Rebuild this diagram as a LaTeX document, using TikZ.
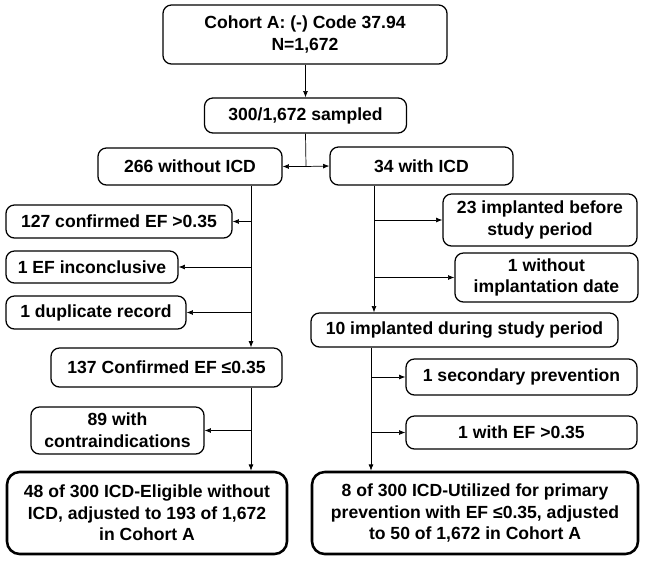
\documentclass[tikz,border=0pt]{standalone}
\usepackage{fontspec}
\setmainfont{Liberation Sans}
\usetikzlibrary{arrows.meta}

\def\pxu{0.025cm}

\begin{document}
\begin{tikzpicture}[x=\pxu,y=-\pxu,>={Latex[length=4.5pt,width=3.5pt]},
    font=\bfseries\fontsize{12.5}{15.4}\selectfont]
    \tikzstyle{box}=[draw,rounded corners=6pt,align=center,inner sep=0pt,line width=0.9pt]
    \tikzstyle{result}=[box,line width=1.8pt,rounded corners=9pt]
    \tikzstyle{flow}=[->,line width=0.5pt]

    \useasboundingbox (0,0) rectangle (645,561);

    % Draw the top of the chart
    \node[box,minimum width={284*\pxu},minimum height={59*\pxu}] (cohort) at (305,34.5)
        {Cohort A: (-) Code 37.94\\N=1,672};
    \node[box,minimum width={202*\pxu},minimum height={35*\pxu}] (sampled) at (305.5,115.5)
        {300/1,672 sampled};
    \node[box,minimum width={184*\pxu},minimum height={37*\pxu}] (without) at (190,166.5)
        {266 without ICD};
    \node[box,minimum width={183*\pxu},minimum height={38*\pxu}] (with) at (421.5,166)
        {34 with ICD};

    % Draw the left branch
    \node[box,minimum width={226*\pxu},minimum height={33*\pxu}] (c127) at (119,221.5)
        {127 confirmed EF >0.35};
    \node[box,minimum width={172*\pxu},minimum height={32*\pxu}] (inc) at (92,267)
        {1 EF inconclusive};
    \node[box,minimum width={180*\pxu},minimum height={33*\pxu}] (dup) at (96,312.5)
        {1 duplicate record};
    \node[box,minimum width={231*\pxu},minimum height={39*\pxu}] (ok) at (166.5,367.5)
        {137 Confirmed EF ≤0.35};
    \node[box,minimum width={173*\pxu},minimum height={47*\pxu}] (contra) at (117.5,430.5)
        {89 with\\contraindications};
    \node[result,minimum width={280*\pxu},minimum height={82*\pxu}] (elig) at (147,513)
        {48 of 300 ICD-Eligible without\\ICD, adjusted to 193 of 1,672\\in Cohort A};

    % Draw the right branch
    \node[box,minimum width={194*\pxu},minimum height={52*\pxu}] (before) at (540,220)
        {23 implanted before\\study period};
    \node[box,minimum width={183*\pxu},minimum height={49*\pxu}] (nodate) at (546.5,277.5)
        {1 without\\implantation date};
    \node[box,minimum width={307*\pxu},minimum height={34*\pxu}] (during) at (464.5,330)
        {10 implanted during study period};
    \node[box,minimum width={231*\pxu},minimum height={36*\pxu}] (sec) at (521.5,377)
        {1 secondary prevention};
    \node[box,minimum width={231*\pxu},minimum height={33*\pxu}] (ef) at (521.5,432.5)
        {1 with EF >0.35};
    \node[result,minimum width={326*\pxu},minimum height={82*\pxu}] (util) at (475,513)
        {8 of 300 ICD-Utilized for primary\\prevention with EF ≤0.35, adjusted\\to 50 of 1,672 in Cohort A};

    \coordinate (split) at (306,166.5);
    \coordinate (left trunk) at (251,186);
    \coordinate (right trunk) at (374,186);
    \coordinate (lower trunk) at (371,348);

    % Connect the boxes
    \draw[flow] (cohort.south -| sampled.north) -- (sampled.north);
    \draw[line width=0.5pt] (sampled.south) -- (split);
    \draw[flow] (split) -- (without.east);
    \draw[flow] (split) -- (with.west);

    \draw[flow] (without.south -| left trunk) -- (ok.north -| left trunk);
    \foreach \name in {c127,inc,dup}
        \draw[flow] (left trunk |- \name.east) -- (\name.east);
    \draw[flow] (ok.south -| left trunk) -- (elig.north -| left trunk);
    \draw[flow] (left trunk |- contra.east) -- (contra.east);

    \draw[flow] (with.south -| right trunk) -- (during.north -| right trunk);
    \foreach \name in {before,nodate}
        \draw[flow] (right trunk |- \name.west) -- (\name.west);
    \draw[flow] (during.south -| lower trunk) -- (util.north -| lower trunk);
    \foreach \name in {sec,ef}
        \draw[flow] (lower trunk |- \name.west) -- (\name.west);
\end{tikzpicture}
\end{document}
